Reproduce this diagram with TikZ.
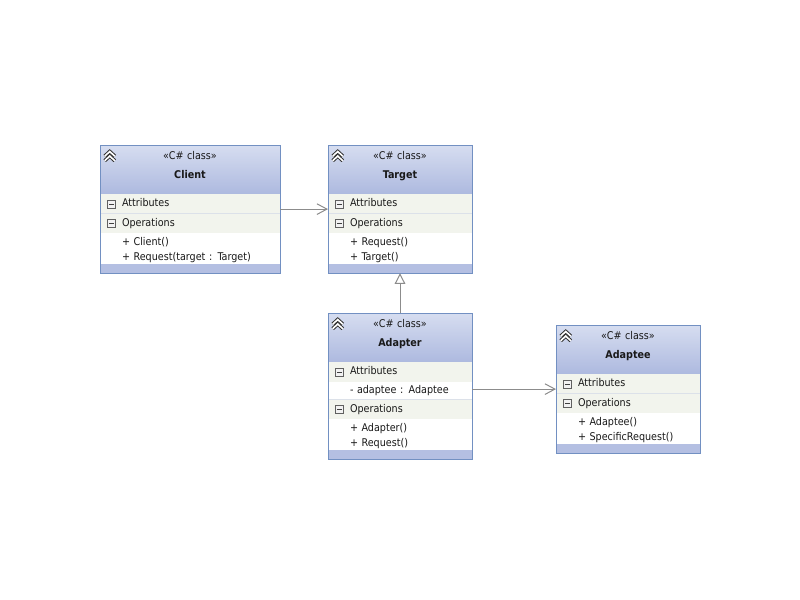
\documentclass[tikz,border=0pt]{standalone}
\usepackage{fontspec}
\setmainfont{DejaVu Sans Condensed}
\usetikzlibrary{positioning, fit, arrows.meta}

\definecolor{umlborder}{HTML}{7290C2}
\definecolor{headtop}{HTML}{D6DDF0}
\definecolor{headbot}{HTML}{ADB9DF}
\definecolor{rowfill}{HTML}{F2F4ED}
\definecolor{footfill}{HTML}{B4BFE2}
\definecolor{rowline}{HTML}{DCE1E9}
\definecolor{linkgray}{HTML}{8C8C8C}

\begin{document}
\begin{tikzpicture}[
    x=0.75pt, y=-0.75pt,
    font=\fontsize{8}{9.5}\selectfont,
    every node/.style={outer sep=0pt, inner xsep=0pt, inner ysep=0pt, text=black!90},
    wide/.style={text width=135pt},
    slim/.style={text width=108pt},
    head/.style={top color=headtop, bottom color=headbot, align=center, minimum height=37pt, text depth=21.4pt},
    row/.style={fill=rowfill, align=left, minimum height=14.6pt, text height=5.6pt, text depth=1.6pt, execute at begin node={\hspace*{16.5pt}}},
    field/.style={row, fill=white, minimum height=13.5pt},
    item/.style={row, fill=white, minimum height=11.6pt, text height=7.6pt},
    foot/.style={fill=footfill, minimum height=6.75pt},
    box/.style={draw=umlborder, line width=0.75pt, inner sep=0pt, fill=none},
    fold/.style={draw=gray!75!black, fill=gray!10, minimum size=6pt, inner sep=0pt,
        path picture={\draw[line width=0.6pt, black!75] ([xshift=-1.7pt]path picture bounding box.center) -- ([xshift=1.7pt]path picture bounding box.center);}},
    chevout/.style={draw=gray!40!black, line width=2.7pt},
    chevin/.style={draw=white, line width=1.2pt},
    link/.style={draw=linkgray, line width=0.75pt},
    assoc/.style={link, -{Straight Barb[length=7.5pt, width=8pt]}},
    inherit/.style={link, -{Triangle[open, length=8pt, width=8pt, fill=white]}}
    ]

    \useasboundingbox (0,0) rectangle (800,600);

    % Client
    \node[head, wide, anchor=north west] (clienthead) at (100,145) {«C\# class»\\[4.5pt]\textbf{Client}};
    \node[row, wide, below=0pt of clienthead] (clientattr) {Attributes};
    \node[row, wide, below=0pt of clientattr] (clientops) {Operations};
    \node[item, wide, below=0pt of clientops] (clientop1) {+ Client()};
    \node[item, wide, below=0pt of clientop1] (clientop2) {+ Request(target : Target)};
    \node[foot, wide, below=0pt of clientop2] (clientfoot) {};

    % Target
    \node[head, slim, anchor=north west] (targethead) at (328,145) {«C\# class»\\[4.5pt]\textbf{Target}};
    \node[row, slim, below=0pt of targethead] (targetattr) {Attributes};
    \node[row, slim, below=0pt of targetattr] (targetops) {Operations};
    \node[item, slim, below=0pt of targetops] (targetop1) {+ Request()};
    \node[item, slim, below=0pt of targetop1] (targetop2) {+ Target()};
    \node[foot, slim, below=0pt of targetop2] (targetfoot) {};

    % Adapter
    \node[head, slim, anchor=north west] (adapterhead) at (328,313) {«C\# class»\\[4.5pt]\textbf{Adapter}};
    \node[row, slim, below=0pt of adapterhead] (adapterattr) {Attributes};
    \node[field, slim, below=0pt of adapterattr] (adapterfield) {- adaptee : Adaptee};
    \node[row, slim, below=0pt of adapterfield] (adapterops) {Operations};
    \node[item, slim, below=0pt of adapterops] (adapterop1) {+ Adapter()};
    \node[item, slim, below=0pt of adapterop1] (adapterop2) {+ Request()};
    \node[foot, slim, below=0pt of adapterop2] (adapterfoot) {};

    % Adaptee
    \node[head, slim, anchor=north west] (adapteehead) at (556,325) {«C\# class»\\[4.5pt]\textbf{Adaptee}};
    \node[row, slim, below=0pt of adapteehead] (adapteeattr) {Attributes};
    \node[row, slim, below=0pt of adapteeattr] (adapteeops) {Operations};
    \node[item, slim, below=0pt of adapteeops] (adapteeop1) {+ Adaptee()};
    \node[item, slim, below=0pt of adapteeop1] (adapteeop2) {+ SpecificRequest()};
    \node[foot, slim, below=0pt of adapteeop2] (adapteefoot) {};

    % row separators
    \foreach \r in {clientattr, targetattr, adapterfield, adapteeattr}
        \draw[rowline, line width=0.75pt] (\r.south west) -- (\r.south east);

    % collapse icons
    \foreach \r in {clientattr, clientops, targetattr, targetops, adapterattr, adapterops, adapteeattr, adapteeops}
        \node[fold] (\r-fold) at ([xshift=8.6pt]\r.west) {};

    \foreach \h in {clienthead, targethead, adapterhead, adapteehead} {
        \foreach \dy in {8.4pt, 11.8pt} {
            \draw[chevout] ([shift={(3.5pt,-\dy)}]\h.north west) -- ++(3.8pt,3.5pt) -- ++(3.8pt,-3.5pt);
            \draw[chevin] ([shift={(3.5pt,-\dy)}]\h.north west) -- ++(3.8pt,3.5pt) -- ++(3.8pt,-3.5pt);
        }
    }

    % class frames
    \node[box, fit=(clienthead)(clientfoot)] (client) {};
    \node[box, fit=(targethead)(targetfoot)] (target) {};
    \node[box, fit=(adapterhead)(adapterfoot)] (adapter) {};
    \node[box, fit=(adapteehead)(adapteefoot)] (adaptee) {};

    % relations
    \draw[assoc] (client) -- (target);
    \draw[inherit] (adapter) -- (target);
    \draw[assoc] (adapter.east |- adaptee) -- (adaptee);

\end{tikzpicture}
\end{document}
